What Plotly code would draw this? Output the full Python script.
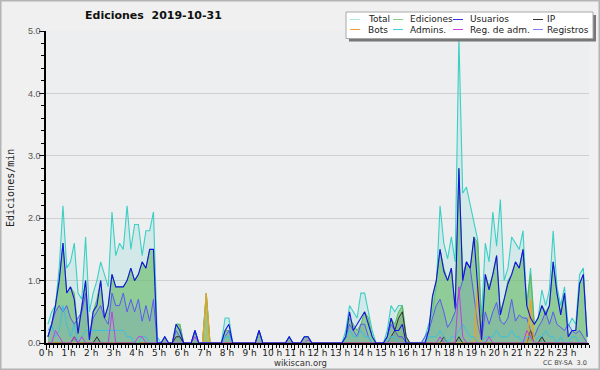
import plotly.graph_objects as go

# 10-minute bins, 144 per day (values in edits/min)
total = [
    0.3, 0.5, 0.6, 1.2, 2.2, 1.2, 1.3, 1.6, 0.8, 0.7, 1.7, 0.5,
    0.8, 1.0, 1.3, 1.1, 0.9, 2.1, 1.4, 1.6, 1.5, 2.2, 1.5, 1.9,
    1.9, 1.4, 1.8, 1.8, 2.1, 0.1, 0.0, 0.1, 0.0, 0.0, 0.3, 0.3,
    0.0, 0.0, 0.0, 0.2, 0.0, 0.0, 0.8, 0.0, 0.0, 0.0, 0.0, 0.4,
    0.4, 0.0, 0.0, 0.0, 0.0, 0.0, 0.0, 0.0, 0.2, 0.0, 0.0, 0.0,
    0.0, 0.0, 0.0, 0.0, 0.1, 0.0, 0.0, 0.0, 0.1, 0.1, 0.0, 0.0,
    0.0, 0.0, 0.0, 0.0, 0.0, 0.0, 0.0, 0.2, 0.6, 0.5, 0.4, 0.8,
    0.8, 0.5, 0.2, 0.0, 0.0, 0.0, 0.2, 0.6, 0.5, 0.6, 0.6, 0.1,
    0.0, 0.0, 0.0, 0.0, 0.1, 0.3, 0.5, 0.9, 2.2, 1.6, 1.35, 1.7,
    1.3, 4.9, 2.4, 2.5, 2.2, 1.9, 1.65, 0.4, 1.6, 1.3, 2.1, 1.55,
    2.3, 1.0, 1.2, 1.7, 1.6, 1.5, 1.8, 0.6, 1.2, 0.3, 0.4, 0.85,
    0.6, 0.85, 1.8, 0.9, 0.6, 0.9, 0.25, 0.4, 0.3, 1.1, 1.2, 0.1,
]
ediciones = [
    0.1, 0.3, 0.6, 1.0, 1.6, 0.8, 0.9, 0.8, 0.2, 0.6, 1.0, 0.1,
    0.5, 0.7, 1.0, 0.4, 0.6, 1.1, 0.9, 0.9, 0.9, 1.0, 1.2, 1.0,
    1.1, 1.3, 1.2, 1.5, 1.5, 0.0, 0.0, 0.1, 0.0, 0.0, 0.3, 0.3,
    0.0, 0.0, 0.0, 0.2, 0.0, 0.0, 0.8, 0.0, 0.0, 0.0, 0.0, 0.2,
    0.2, 0.0, 0.0, 0.0, 0.0, 0.0, 0.0, 0.0, 0.2, 0.0, 0.0, 0.0,
    0.0, 0.0, 0.0, 0.0, 0.1, 0.0, 0.0, 0.0, 0.1, 0.1, 0.0, 0.0,
    0.0, 0.0, 0.0, 0.0, 0.0, 0.0, 0.0, 0.1, 0.4, 0.3, 0.2, 0.3,
    0.5, 0.4, 0.1, 0.0, 0.0, 0.0, 0.1, 0.4, 0.3, 0.5, 0.6, 0.1,
    0.0, 0.0, 0.0, 0.0, 0.0, 0.2, 0.75, 1.0, 1.5, 1.2, 1.0, 1.2,
    0.6, 2.8, 1.1, 1.3, 1.2, 1.7, 1.6, 0.2, 1.1, 0.9, 1.1, 1.4,
    0.5, 0.7, 1.0, 1.1, 1.3, 1.2, 1.5, 0.6, 1.1, 0.3, 0.4, 0.6,
    0.5, 0.6, 1.3, 0.8, 0.5, 0.8, 0.1, 0.2, 0.2, 0.95, 1.1, 0.1,
]
usuarios = [
    0.1, 0.3, 0.6, 1.0, 1.6, 0.8, 0.9, 0.7, 0.15, 0.6, 1.0, 0.05,
    0.5, 0.6, 1.0, 0.4, 0.6, 1.1, 0.9, 0.9, 0.9, 1.0, 1.2, 1.0,
    1.1, 1.3, 1.2, 1.5, 1.5, 0.0, 0.0, 0.1, 0.0, 0.0, 0.3, 0.2,
    0.0, 0.0, 0.0, 0.2, 0.0, 0.0, 0.0, 0.0, 0.0, 0.0, 0.0, 0.2,
    0.3, 0.0, 0.0, 0.0, 0.0, 0.0, 0.0, 0.0, 0.2, 0.0, 0.0, 0.0,
    0.0, 0.0, 0.0, 0.0, 0.1, 0.0, 0.0, 0.0, 0.1, 0.1, 0.0, 0.0,
    0.0, 0.0, 0.0, 0.0, 0.0, 0.0, 0.0, 0.1, 0.5, 0.2, 0.3, 0.4,
    0.5, 0.3, 0.1, 0.0, 0.0, 0.0, 0.1, 0.4, 0.2, 0.2, 0.3, 0.0,
    0.0, 0.0, 0.0, 0.0, 0.0, 0.2, 0.75, 1.0, 1.5, 1.15, 1.0, 1.2,
    0.55, 2.8, 1.0, 1.3, 1.2, 1.7, 0.8, 0.05, 1.1, 0.85, 1.1, 1.4,
    0.45, 0.7, 0.95, 1.1, 1.3, 1.2, 1.5, 0.6, 0.4, 0.3, 0.4, 0.6,
    0.45, 0.6, 1.3, 0.8, 0.45, 0.8, 0.1, 0.2, 0.2, 0.95, 1.1, 0.1,
]
ip = [
    0.0, 0.0, 0.0, 0.0, 0.0, 0.0, 0.0, 0.1, 0.0, 0.0, 0.0, 0.0,
    0.0, 0.1, 0.0, 0.0, 0.0, 0.0, 0.0, 0.0, 0.0, 0.0, 0.0, 0.0,
    0.0, 0.0, 0.0, 0.0, 0.0, 0.0, 0.0, 0.0, 0.0, 0.0, 0.1, 0.1,
    0.0, 0.0, 0.0, 0.0, 0.0, 0.0, 0.0, 0.0, 0.0, 0.0, 0.0, 0.0,
    0.0, 0.0, 0.0, 0.0, 0.0, 0.0, 0.0, 0.0, 0.0, 0.0, 0.0, 0.0,
    0.0, 0.0, 0.0, 0.0, 0.0, 0.0, 0.0, 0.0, 0.0, 0.0, 0.0, 0.0,
    0.0, 0.0, 0.0, 0.0, 0.0, 0.0, 0.0, 0.0, 0.0, 0.0, 0.0, 0.0,
    0.0, 0.0, 0.0, 0.0, 0.0, 0.0, 0.0, 0.1, 0.2, 0.4, 0.5, 0.1,
    0.0, 0.0, 0.0, 0.0, 0.0, 0.0, 0.0, 0.0, 0.0, 0.1, 0.0, 0.0,
    0.0, 0.1, 0.0, 0.0, 0.0, 0.0, 0.0, 0.0, 0.0, 0.0, 0.0, 0.0,
    0.0, 0.0, 0.0, 0.0, 0.0, 0.0, 0.0, 0.0, 0.2, 0.0, 0.0, 0.1,
    0.0, 0.0, 0.0, 0.0, 0.0, 0.0, 0.0, 0.0, 0.0, 0.0, 0.0, 0.0,
]
bots = [
    0.0, 0.0, 0.0, 0.0, 0.0, 0.0, 0.0, 0.0, 0.0, 0.0, 0.0, 0.0,
    0.0, 0.0, 0.0, 0.0, 0.0, 0.0, 0.0, 0.0, 0.0, 0.0, 0.0, 0.0,
    0.0, 0.0, 0.0, 0.0, 0.0, 0.0, 0.0, 0.0, 0.0, 0.0, 0.0, 0.0,
    0.0, 0.0, 0.0, 0.0, 0.0, 0.0, 0.8, 0.0, 0.0, 0.0, 0.0, 0.0,
    0.0, 0.0, 0.0, 0.0, 0.0, 0.0, 0.0, 0.0, 0.0, 0.0, 0.0, 0.0,
    0.0, 0.0, 0.0, 0.0, 0.0, 0.0, 0.0, 0.0, 0.0, 0.0, 0.0, 0.0,
    0.0, 0.0, 0.0, 0.0, 0.0, 0.0, 0.0, 0.0, 0.0, 0.0, 0.0, 0.0,
    0.0, 0.0, 0.0, 0.0, 0.0, 0.0, 0.0, 0.0, 0.0, 0.0, 0.0, 0.0,
    0.0, 0.0, 0.0, 0.0, 0.0, 0.0, 0.0, 0.0, 0.0, 0.0, 0.0, 0.0,
    0.0, 0.0, 0.0, 0.0, 0.0, 0.0, 1.0, 0.0, 0.0, 0.0, 0.0, 0.0,
    0.0, 0.0, 0.0, 0.0, 0.0, 0.0, 0.0, 0.0, 0.7, 0.0, 0.0, 0.0,
    0.0, 0.0, 0.0, 0.0, 0.0, 0.0, 0.0, 0.0, 0.0, 0.0, 0.0, 0.0,
]
admins = [
    0.2, 0.3, 0.1, 0.2, 0.6, 0.3, 0.1, 0.3, 0.0, 0.1, 0.2, 0.2,
    0.2, 0.2, 0.2, 0.2, 0.2, 0.2, 0.2, 0.2, 0.2, 0.1, 0.1, 0.0,
    0.0, 0.1, 0.1, 0.0, 0.0, 0.0, 0.0, 0.0, 0.0, 0.0, 0.0, 0.0,
    0.0, 0.0, 0.0, 0.0, 0.0, 0.0, 0.0, 0.0, 0.0, 0.0, 0.0, 0.1,
    0.1, 0.0, 0.0, 0.0, 0.0, 0.0, 0.0, 0.0, 0.0, 0.0, 0.0, 0.0,
    0.0, 0.0, 0.0, 0.0, 0.0, 0.0, 0.0, 0.0, 0.0, 0.0, 0.0, 0.0,
    0.0, 0.0, 0.0, 0.0, 0.0, 0.0, 0.0, 0.1, 0.2, 0.1, 0.1, 0.2,
    0.1, 0.1, 0.0, 0.0, 0.0, 0.0, 0.0, 0.1, 0.1, 0.0, 0.0, 0.0,
    0.0, 0.0, 0.0, 0.0, 0.0, 0.1, 0.1, 0.1, 0.2, 0.1, 0.0, 0.1,
    0.1, 0.2, 0.3, 0.2, 0.1, 0.1, 0.0, 0.0, 0.1, 0.1, 0.1, 0.2,
    0.1, 0.1, 0.1, 0.2, 0.1, 0.1, 0.0, 0.1, 0.1, 0.0, 0.1, 0.1,
    0.2, 0.1, 0.1, 0.0, 0.1, 0.0, 0.0, 0.1, 0.1, 0.0, 0.0, 0.0,
]
reg_adm = [
    0.0, 0.0, 0.2, 0.1, 0.0, 0.0, 0.0, 0.1, 0.0, 0.1, 0.0, 0.0,
    0.0, 0.0, 0.0, 0.0, 0.0, 0.5, 0.0, 0.0, 0.0, 0.0, 0.0, 0.0,
    0.1, 0.1, 0.0, 0.0, 0.0, 0.0, 0.0, 0.0, 0.0, 0.0, 0.0, 0.0,
    0.0, 0.0, 0.0, 0.1, 0.0, 0.0, 0.0, 0.0, 0.0, 0.0, 0.0, 0.0,
    0.0, 0.0, 0.0, 0.0, 0.0, 0.0, 0.0, 0.0, 0.0, 0.0, 0.0, 0.0,
    0.0, 0.0, 0.0, 0.0, 0.0, 0.0, 0.0, 0.0, 0.0, 0.05, 0.0, 0.0,
    0.0, 0.0, 0.0, 0.0, 0.0, 0.0, 0.0, 0.0, 0.0, 0.0, 0.0, 0.0,
    0.0, 0.0, 0.0, 0.0, 0.0, 0.0, 0.0, 0.0, 0.0, 0.0, 0.0, 0.0,
    0.0, 0.0, 0.0, 0.0, 0.0, 0.0, 0.0, 0.0, 0.1, 0.0, 0.0, 0.0,
    0.0, 0.9, 0.1, 0.0, 0.0, 0.0, 0.0, 0.0, 0.0, 0.1, 0.0, 0.0,
    0.0, 0.0, 0.0, 0.0, 0.0, 0.0, 0.0, 0.2, 0.1, 0.0, 0.0, 0.0,
    0.0, 0.0, 0.0, 0.0, 0.0, 0.0, 0.0, 0.0, 0.0, 0.0, 0.0, 0.0,
]
registros = [
    0.1, 0.3, 0.5, 0.6, 0.5, 0.6, 0.4, 0.3, 0.4, 0.5, 0.8, 0.1,
    0.4, 0.5, 0.6, 0.4, 0.3, 0.8, 0.6, 0.6, 0.8, 0.5, 0.7, 0.5,
    0.7, 0.35, 0.6, 0.35, 0.7, 0.0, 0.0, 0.1, 0.0, 0.0, 0.2, 0.1,
    0.0, 0.0, 0.0, 0.2, 0.0, 0.0, 0.0, 0.0, 0.0, 0.0, 0.0, 0.1,
    0.2, 0.0, 0.0, 0.0, 0.0, 0.0, 0.0, 0.0, 0.2, 0.0, 0.0, 0.0,
    0.0, 0.0, 0.0, 0.0, 0.1, 0.0, 0.0, 0.0, 0.1, 0.1, 0.0, 0.0,
    0.0, 0.0, 0.0, 0.0, 0.0, 0.0, 0.0, 0.1, 0.3, 0.2, 0.1, 0.3,
    0.3, 0.1, 0.0, 0.0, 0.0, 0.0, 0.1, 0.3, 0.2, 0.1, 0.1, 0.0,
    0.0, 0.0, 0.0, 0.0, 0.1, 0.2, 0.4, 0.6, 0.7, 0.5, 0.25, 0.35,
    0.5, 0.8, 1.0, 1.3, 1.2, 0.75, 0.3, 0.05, 0.5, 0.3, 0.5, 0.65,
    0.35, 0.3, 0.4, 0.7, 0.35, 0.45, 0.4, 0.4, 0.2, 0.1, 0.25, 0.35,
    0.5, 0.3, 0.5, 0.3, 0.25, 0.2, 0.3, 0.2, 0.15, 0.2, 0.1, 0.0,
]
hour_labels = [f"{h} h" for h in range(24)]
legend_names = ["Total", "Ediciones", "Usuarios", "IP",
                "Bots", "Admins.", "Reg. de adm.", "Registros"]
legend_colors = ["#a8e6de", "#86d086", "#3434e0", "#303030",
                 "#f0a040", "#40cce0", "#d040e0", "#8080f0"]

# bin centres in minutes
minutes = [10 * i + 5 for i in range(len(total))]

fig = go.Figure()

def add(y, color, width=1.0, fill=None, fillcolor=None):
    fig.add_trace(go.Scatter(
        x=minutes, y=y, mode="lines",
        line=dict(color=color, width=width, shape="linear"),
        fill=fill, fillcolor=fillcolor, showlegend=False, hoverinfo="skip"))

add(total, "#3ccfc4", 1.1, "tozeroy", "rgba(60,208,190,0.14)")
add(ediciones, "#5cb85c", 1.0, "tozeroy", "rgba(112,190,112,0.68)")
add(registros, "#5a5af0", 1.0, "tozeroy", "rgba(90,110,210,0.16)")
add(ip, "#303030", 1.0, "tozeroy", "rgba(40,40,40,0.10)")
add(bots, "#f0a020", 1.1, "tozeroy", "rgba(240,160,30,0.25)")
add(admins, "#3cc0e0", 1.0)
add(reg_adm, "#c040e0", 1.0)
add(usuarios, "#1414e0", 1.1)

W, H = 600, 370
ml, mr, mt, mb = 46, 11, 31, 27
pw, ph = W - ml - mr, H - mt - mb

def px(x):
    return (x - ml) / pw

def py(y):
    return (H - mb - y) / ph

shapes = [
    # outer border
    dict(type="rect", xref="paper", yref="paper",
         x0=px(0.5), x1=px(W - 0.5), y0=py(H - 0.5), y1=py(0.5),
         line=dict(color="#b4b4b4", width=2), fillcolor="rgba(0,0,0,0)", layer="above"),
    # legend shadow + box
    dict(type="rect", xref="paper", yref="paper",
         x0=px(349), x1=px(596), y0=py(41.5), y1=py(15),
         line=dict(width=0), fillcolor="#777777", layer="above"),
    dict(type="rect", xref="paper", yref="paper",
         x0=px(346), x1=px(593), y0=py(38.5), y1=py(12),
         line=dict(color="#a8a8a8", width=1), fillcolor="#ffffff", layer="above"),
]
annotations = [
    dict(text="<b>Ediciones \u00a02019-10-31</b>", xref="paper", yref="paper",
         x=px(153), y=py(16), xanchor="center", yanchor="middle", showarrow=False,
         font=dict(family="DejaVu Sans", size=11, color="#111111")),
    dict(text="wikiscan.org", xref="paper", yref="paper",
         x=px(300), y=py(362.5), xanchor="center", yanchor="middle", showarrow=False,
         font=dict(family="DejaVu Sans", size=8.5, color="#333333")),
    dict(text="CC BY-SA  3.0", xref="paper", yref="paper",
         x=px(589), y=py(363), xanchor="right", yanchor="middle", showarrow=False,
         font=dict(family="DejaVu Sans", size=6.5, color="#444444")),
    dict(text="Ediciones/min", xref="paper", yref="paper",
         x=px(10), y=py(188), xanchor="center", yanchor="middle", showarrow=False,
         textangle=-90, font=dict(family="DejaVu Sans Mono", size=10, color="#222222")),
]
line_x = [(350, 360), (393, 403), (453, 463), (533, 543)]
text_x = [366, 408, 468, 545]
row_y = [19.5, 29.5]
for k, (name, col) in enumerate(zip(legend_names, legend_colors)):
    r, c = divmod(k, 4)
    shapes.append(dict(type="line", xref="paper", yref="paper",
                       x0=px(line_x[c][0]), x1=px(line_x[c][1]),
                       y0=py(row_y[r]), y1=py(row_y[r]),
                       line=dict(color=col, width=1), layer="above"))
    annotations.append(dict(text=name, xref="paper", yref="paper",
                            x=px(text_x[c]), y=py(row_y[r]), xanchor="left",
                            yanchor="middle", showarrow=False,
                            font=dict(family="DejaVu Sans", size=9, color="#222222")))

fig.update_layout(
    width=W, height=H, margin=dict(l=ml, r=mr, t=mt, b=mb, pad=0),
    paper_bgcolor="#f0f0f0", plot_bgcolor="#edeef0",
    shapes=shapes, annotations=annotations, showlegend=False,
    xaxis=dict(range=[0, 1440], tickvals=[60 * h for h in range(24)],
               ticktext=hour_labels, showgrid=False, zeroline=False,
               showline=True, linecolor="#000000", linewidth=1.5,
               ticks="outside", ticklen=5, tickcolor="#000000", tickwidth=1,
               ticklabelstandoff=-5,
               minor=dict(dtick=10, tick0=0, ticks="outside", ticklen=3,
                          tickcolor="#000000", showgrid=False),
               tickfont=dict(family="DejaVu Sans", size=9, color="#222222"),
               fixedrange=True),
    yaxis=dict(range=[0, 5.0], tickvals=[0, 1, 2, 3, 4, 5],
               ticktext=["0.0", "1.0", "2.0", "3.0", "4.0", "5.0"],
               showgrid=True, gridcolor="#cfcfcf", gridwidth=1, zeroline=False,
               showline=True, linecolor="#000000", linewidth=1.5,
               ticks="outside", ticklen=5, tickcolor="#000000",
               ticklabelstandoff=-3,
               minor=dict(dtick=0.2, tick0=0, ticks="outside", ticklen=3,
                          tickcolor="#000000", showgrid=False),
               tickfont=dict(family="Liberation Sans", size=9, color="#555555"),
               fixedrange=True),
)

fig.write_html(
    "out.html",
    config={"displayModeBar": False},
    post_script="document.body.style.margin='0px';document.body.style.overflow='hidden';",
)
